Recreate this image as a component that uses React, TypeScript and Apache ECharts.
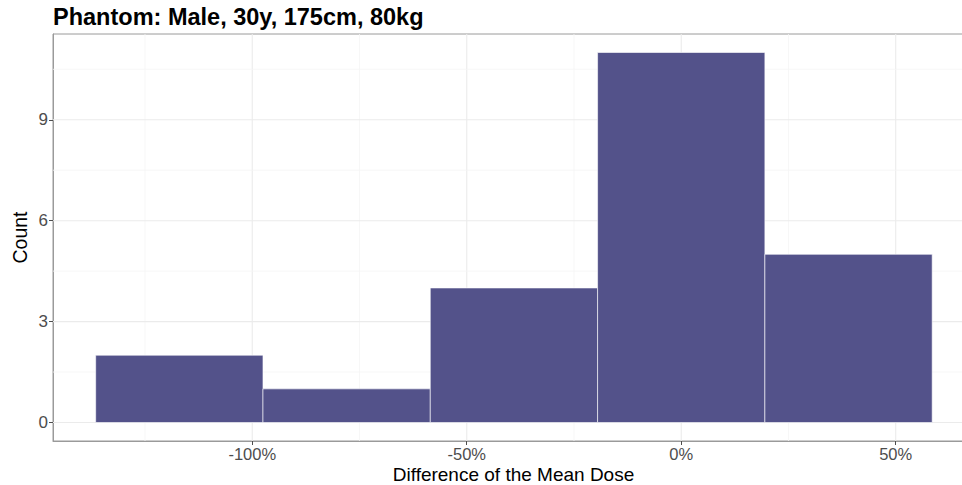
import React, { useEffect, useRef } from "react";
import * as echarts from "echarts";

const binStarts = [-136.5, -97.5, -58.5, -19.5, 19.5];
const binEnds = [-97.5, -58.5, -19.5, 19.5, 58.5];
const counts = [2, 1, 4, 11, 5];
const xTicks = [-100, -50, 0, 50];
const xMinor = [-125, -75, -25, 25];
const yTicks = [0, 3, 6, 9];
const yMinor = [1.5, 4.5, 7.5, 10.5];

const X_MIN = -146.45;
const X_MAX = 68.25;
const Y_MIN = -0.55;
const Y_MAX = 11.55;

export default function App() {
  const ref = useRef<HTMLDivElement>(null);
  useEffect(() => {
    if (!ref.current) return;
    const chart = echarts.init(ref.current, null, { renderer: "svg" });
    const labelFont = "Liberation Sans, Arial, sans-serif";
    const xGridData = [
      ...xTicks.map((v) => [v, 0, 1]),
      ...xMinor.map((v) => [v, 0, 0]),
    ];
    const yGridData = [
      ...yTicks.map((v) => [0, v, 1]),
      ...yMinor.map((v) => [0, v, 0]),
    ];
    chart.setOption({
      animation: false,
      backgroundColor: "#ffffff",
      title: {
        text: "Phantom: Male, 30y, 175cm, 80kg",
        left: 53,
        top: 5,
        padding: 0,
        textStyle: {
          fontFamily: labelFont,
          fontWeight: "bold",
          fontSize: 23.5,
          color: "#000000",
        },
      },
      grid: {
        left: 53,
        top: 34,
        bottom: 44,
        right: -12,
        outerBoundsMode: "none",
        containLabel: false,
        show: true,
        borderColor: "#9a9a9a",
        borderWidth: 1,
        backgroundColor: "transparent",
      },
      xAxis: {
        type: "value",
        min: X_MIN,
        max: X_MAX,
        name: "Difference of the Mean Dose",
        nameLocation: "middle",
        nameGap: 23.5,
        nameMoveOverlap: false,
        nameTextStyle: { fontFamily: labelFont, fontSize: 19, lineHeight: 19, color: "#000000" },
        axisLine: { show: true, onZero: false, lineStyle: { color: "#9a9a9a", width: 1 } },
        axisTick: {
          show: true,
          length: 4,
          customValues: xTicks,
          lineStyle: { color: "#4d4d4d" },
        },
        axisLabel: {
          customValues: xTicks,
          formatter: (v: number) => `${v}%`,
          fontFamily: labelFont,
          fontSize: 16.5,
          lineHeight: 14,
          color: "#4d4d4d",
          margin: 5.5,
        },
        splitLine: { show: false },
      },
      yAxis: {
        type: "value",
        min: Y_MIN,
        max: Y_MAX,
        name: "Count",
        nameLocation: "middle",
        nameGap: 23,
        nameMoveOverlap: false,
        nameTextStyle: { fontFamily: labelFont, fontSize: 19.5, color: "#000000" },
        axisLine: { show: true, onZero: false, lineStyle: { color: "#9a9a9a", width: 1 } },
        axisTick: {
          show: true,
          length: 4,
          customValues: yTicks,
          lineStyle: { color: "#4d4d4d" },
        },
        axisLabel: {
          customValues: yTicks,
          fontFamily: labelFont,
          fontSize: 17,
          color: "#4d4d4d",
          margin: 5,
        },
        splitLine: { show: false },
      },
      series: [
        {
          type: "custom",
          z: 1,
          silent: true,
          data: xGridData,
          encode: { x: 0, y: 1 },
          renderItem: (params: any, api: any) => {
            const cs = params.coordSys;
            const x = api.coord([api.value(0), 0])[0];
            const major = api.value(2) === 1;
            return {
              type: "line",
              shape: { x1: x, y1: cs.y, x2: x, y2: cs.y + cs.height },
              style: { stroke: major ? "#ebebeb" : "#f5f5f5", lineWidth: major ? 1.1 : 0.8 },
            };
          },
        },
        {
          type: "custom",
          z: 1,
          silent: true,
          data: yGridData,
          encode: { x: 0, y: 1 },
          renderItem: (params: any, api: any) => {
            const cs = params.coordSys;
            const y = api.coord([0, api.value(1)])[1];
            const major = api.value(2) === 1;
            return {
              type: "line",
              shape: { x1: cs.x, y1: y, x2: cs.x + cs.width, y2: y },
              style: { stroke: major ? "#ebebeb" : "#f5f5f5", lineWidth: major ? 1.1 : 0.8 },
            };
          },
        },
        {
          type: "custom",
          z: 2,
          data: binStarts.map((s, i) => [s, binEnds[i], counts[i]]),
          encode: { x: [0, 1], y: 2 },
          renderItem: (_params: any, api: any) => {
            const p0 = api.coord([api.value(0), api.value(2)]);
            const p1 = api.coord([api.value(1), 0]);
            return {
              type: "rect",
              shape: { x: p0[0], y: p0[1], width: p1[0] - p0[0], height: p1[1] - p0[1] },
              style: { fill: "#53528a", stroke: "#ffffff", lineWidth: 0.6 },
            };
          },
        },
      ],
    });
    return () => chart.dispose();
  }, []);
  return (
    <div style={{ width: 962, height: 485, position: "fixed", left: 0, top: 0, overflow: "hidden" }}>
      <div ref={ref} style={{ width: 962, height: 485 }} />
    </div>
  );
}
